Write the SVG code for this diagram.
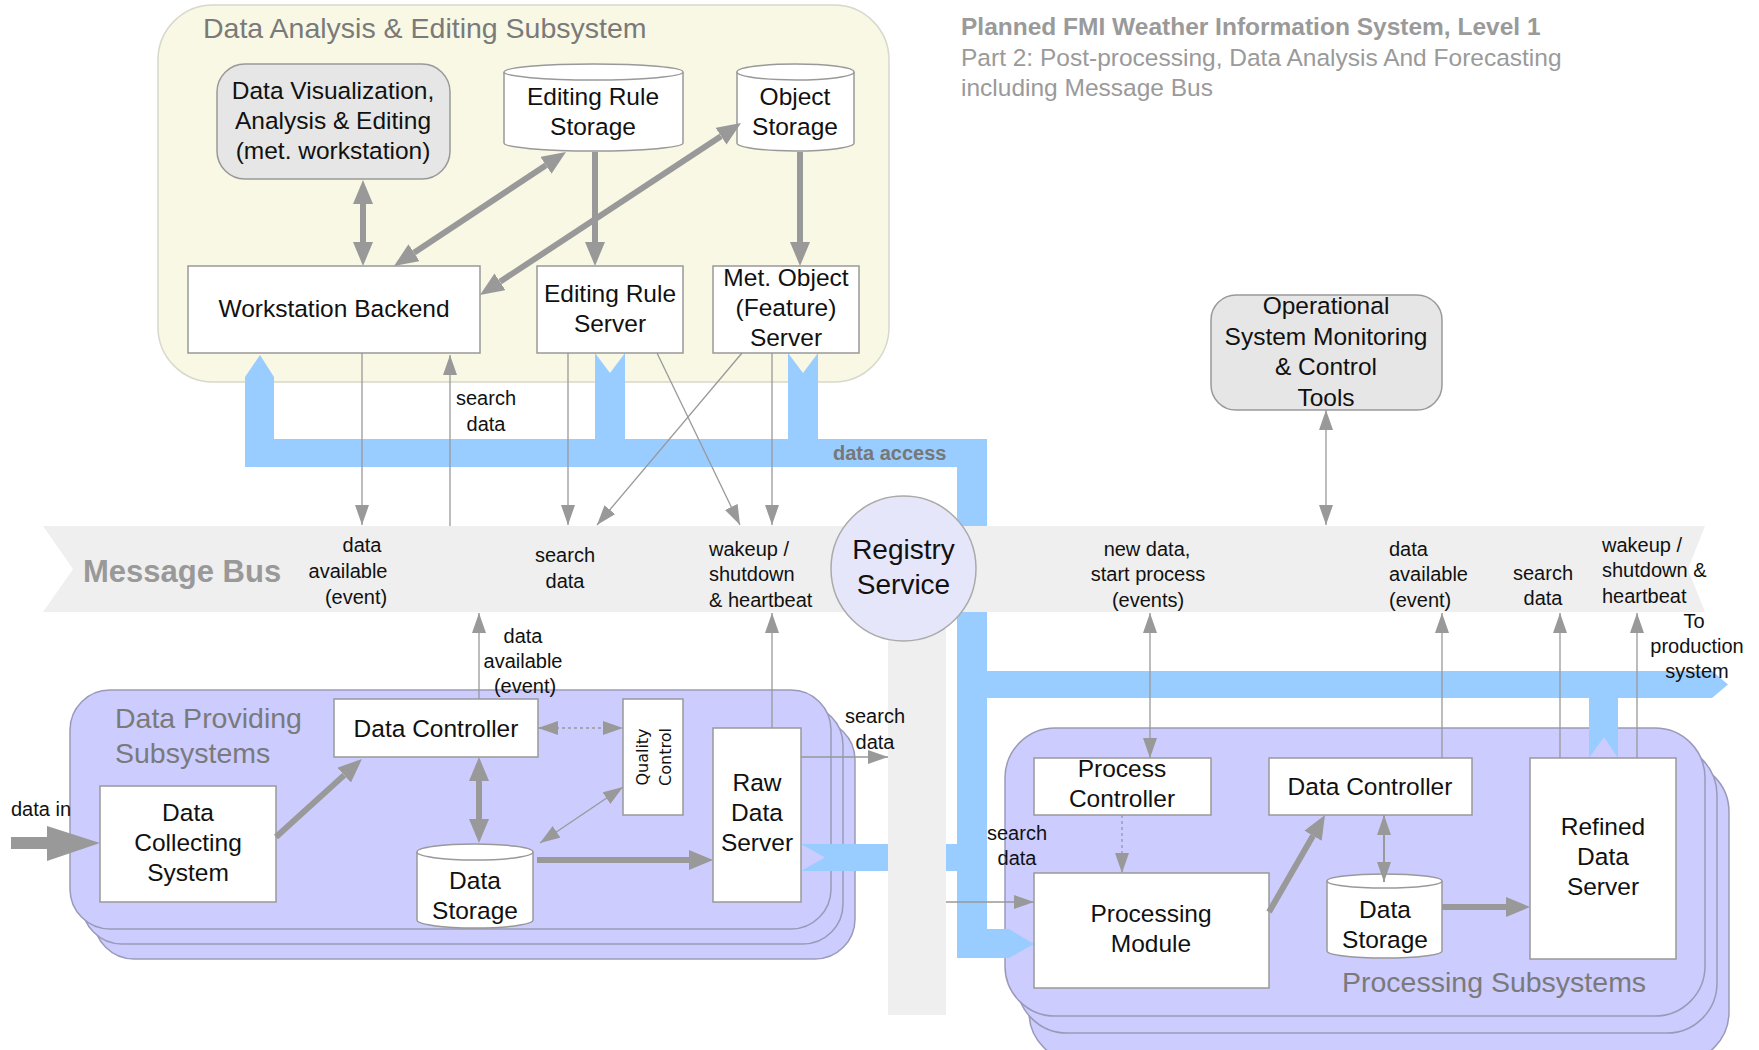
<svg xmlns="http://www.w3.org/2000/svg" width="1759" height="1050" viewBox="0 0 1759 1050">
<defs>
<style>
.node{fill:#fff;stroke:#999;stroke-width:1.5}
.gnode{fill:#e6e6e6;stroke:#999;stroke-width:1.5}
.t{font-family:"Liberation Sans",Arial,sans-serif;font-size:24.5px;fill:#111;text-anchor:middle}
.lbl{font-family:"Liberation Sans",Arial,sans-serif;font-size:20px;fill:#111;text-anchor:middle}
.lbs{font-family:"Liberation Sans",Arial,sans-serif;font-size:20px;fill:#111}
.ctitle{font-family:"Liberation Sans",Arial,sans-serif;font-size:28.5px;fill:#7a7a7a}
.ttl{font-family:"Liberation Sans",Arial,sans-serif;font-size:24.5px;fill:#9a9a9a}
.thin{stroke:#999;stroke-width:1.3;fill:none}
.thick{stroke:#999;stroke-width:6;fill:none}
.purple{fill:#ccccff;stroke:#9a9ab8;stroke-width:1.5}
</style>
<marker id="ah" viewBox="0 0 20 14" refX="20" refY="7" markerWidth="20" markerHeight="14" markerUnits="userSpaceOnUse" orient="auto-start-reverse"><path d="M0,0 L20,7 L0,14 Z" fill="#999"/></marker>
<marker id="ahT" viewBox="0 0 24 20" refX="0" refY="10" markerWidth="24" markerHeight="20" markerUnits="userSpaceOnUse" orient="auto-start-reverse"><path d="M0,0 L24,10 L0,20 Z" fill="#999"/></marker>
</defs>
<rect width="1759" height="1050" fill="#fff"/>

<!-- Containers -->
<g id="data-analysis-subsystem">
<rect x="158" y="5" width="731" height="377" rx="55" ry="55" fill="#f8f8e4" stroke="#d8d8cc" stroke-width="1.5"/>
<text class="ctitle" x="203" y="38">Data Analysis &amp; Editing Subsystem</text>
</g>
<g id="data-providing-subsystems">
<rect class="purple" x="94" y="720" width="761" height="239" rx="40"/>
<rect class="purple" x="82" y="705" width="761" height="239" rx="40"/>
<rect class="purple" x="70" y="690" width="761" height="239" rx="40"/>
<text class="ctitle" x="115" y="728">Data Providing</text>
<text class="ctitle" x="115" y="763">Subsystems</text>
</g>
<g id="processing-subsystems">
<rect class="purple" x="1029" y="762" width="700" height="300" rx="50"/>
<rect class="purple" x="1017" y="745" width="700" height="288" rx="50"/>
<rect class="purple" x="1005" y="728" width="700" height="288" rx="50"/>
<text class="ctitle" x="1342" y="992">Processing Subsystems</text>
</g>

<!-- Data access bus (blue) -->
<g id="data-access">
<polygon fill="#99ccff" points="260,355 274,377 274,439 595,439 595,353 610,373 625,353 625,439 788,439 788,353 803,373 818,353 818,439 987,439 987,671 1712,671 1728,684.5 1712,698 1618,698 1618,758 1604,737 1589,758 1589,698 987,698 987,929 1009,929 1034,944 1009,958 957,958 957,871 801,871 825,857.5 801,844 957,844 957,467 245,467 245,377"/>
<text x="833" y="460" font-family="Liberation Sans, Arial, sans-serif" font-size="20" font-weight="bold" fill="#777">data access</text>
</g>

<!-- Message bus -->
<g id="message-bus">
<polygon fill="#efefef" points="43,526 1705,526 1688,569 1705,612 43,612 73,569"/>
<rect x="888" y="612" width="58" height="403" fill="#efefef"/>
<text x="83" y="582" font-family="Liberation Sans, Arial, sans-serif" font-size="31" font-weight="bold" fill="#999">Message Bus</text>
</g>

<!-- Title -->
<g id="title">
<text class="ttl" x="961" y="35" font-weight="bold">Planned FMI Weather Information System, Level 1</text>
<text class="ttl" x="961" y="66">Part 2: Post-processing, Data Analysis And Forecasting</text>
<text class="ttl" x="961" y="96">including Message Bus</text>
</g>

<!-- Nodes -->
<g id="data-visualization">
<rect class="gnode" x="217" y="64" width="233" height="115" rx="28"/>
<text class="t" x="333" y="99">Data Visualization,</text>
<text class="t" x="333" y="129">Analysis &amp; Editing</text>
<text class="t" x="333" y="159">(met. workstation)</text>
</g>
<g id="editing-rule-storage">
<path class="node" d="M504,72 A89.5,8 0 0 1 683,72 V143 A89.5,8 0 0 1 504,143 Z"/>
<path class="node" fill="none" d="M504,72 A89.5,8 0 0 0 683,72"/>
<text class="t" x="593" y="105">Editing Rule</text>
<text class="t" x="593" y="135">Storage</text>
</g>
<g id="object-storage">
<path class="node" d="M737,72 A58.5,8 0 0 1 854,72 V143 A58.5,8 0 0 1 737,143 Z"/>
<path class="node" fill="none" d="M737,72 A58.5,8 0 0 0 854,72"/>
<text class="t" x="795" y="105">Object</text>
<text class="t" x="795" y="135">Storage</text>
</g>
<g id="workstation-backend">
<rect class="node" x="188" y="266" width="292" height="87"/>
<text class="t" x="334" y="317">Workstation Backend</text>
</g>
<g id="editing-rule-server">
<rect class="node" x="537" y="266" width="146" height="87"/>
<text class="t" x="610" y="302">Editing Rule</text>
<text class="t" x="610" y="332">Server</text>
</g>
<g id="met-object-server">
<rect class="node" x="713" y="266" width="146" height="87"/>
<text class="t" x="786" y="286">Met. Object</text>
<text class="t" x="786" y="316">(Feature)</text>
<text class="t" x="786" y="346">Server</text>
</g>
<g id="operational-monitoring">
<rect class="gnode" x="1211" y="295" width="231" height="115" rx="25"/>
<text class="t" x="1326" y="314">Operational</text>
<text class="t" x="1326" y="345">System Monitoring</text>
<text class="t" x="1326" y="375">&amp; Control</text>
<text class="t" x="1326" y="406">Tools</text>
</g>
<g id="registry-service">
<circle cx="903.5" cy="568.5" r="72.5" fill="#e6e6fa" stroke="#aaa" stroke-width="1.5"/>
<text class="t" x="903.5" y="559" font-size="28" style="font-size:28px">Registry</text>
<text class="t" x="903.5" y="594" style="font-size:28px">Service</text>
</g>
<g id="data-controller-left">
<rect class="node" x="334" y="699" width="204" height="58"/>
<text class="t" x="436" y="737">Data Controller</text>
</g>
<g id="quality-control">
<rect class="node" x="623" y="699" width="60" height="116"/>
<text transform="translate(648,757) rotate(-90)" text-anchor="middle" font-family="DejaVu Sans, sans-serif" font-size="16" fill="#111">Quality</text>
<text transform="translate(671,757) rotate(-90)" text-anchor="middle" font-family="DejaVu Sans, sans-serif" font-size="16" fill="#111">Control</text>
</g>
<g id="data-collecting-system">
<rect class="node" x="100" y="786" width="176" height="116"/>
<text class="t" x="188" y="821">Data</text>
<text class="t" x="188" y="851">Collecting</text>
<text class="t" x="188" y="881">System</text>
</g>
<g id="data-storage-left">
<path class="node" d="M417,852 A58,8 0 0 1 533,852 V920 A58,8 0 0 1 417,920 Z"/>
<path class="node" fill="none" d="M417,852 A58,8 0 0 0 533,852"/>
<text class="t" x="475" y="889">Data</text>
<text class="t" x="475" y="919">Storage</text>
</g>
<g id="raw-data-server">
<rect class="node" x="713" y="728" width="88" height="174"/>
<text class="t" x="757" y="791">Raw</text>
<text class="t" x="757" y="821">Data</text>
<text class="t" x="757" y="851">Server</text>
</g>
<g id="process-controller">
<rect class="node" x="1034" y="758" width="177" height="57"/>
<text class="t" x="1122" y="777">Process</text>
<text class="t" x="1122" y="807">Controller</text>
</g>
<g id="data-controller-right">
<rect class="node" x="1269" y="758" width="203" height="57"/>
<text class="t" x="1370" y="795">Data Controller</text>
</g>
<g id="processing-module">
<rect class="node" x="1034" y="873" width="235" height="115"/>
<text class="t" x="1151" y="922">Processing</text>
<text class="t" x="1151" y="952">Module</text>
</g>
<g id="data-storage-right">
<path class="node" d="M1327,881 A57.5,7 0 0 1 1442,881 V951 A57.5,7 0 0 1 1327,951 Z"/>
<path class="node" fill="none" d="M1327,881 A57.5,7 0 0 0 1442,881"/>
<text class="t" x="1385" y="918">Data</text>
<text class="t" x="1385" y="948">Storage</text>
</g>
<g id="refined-data-server">
<rect class="node" x="1530" y="758" width="146" height="201"/>
<text class="t" x="1603" y="835">Refined</text>
<text class="t" x="1603" y="865">Data</text>
<text class="t" x="1603" y="895">Server</text>
</g>

<!-- Connectors -->
<g id="connectors">
<!-- thick arrows -->
<line class="thick" x1="363" y1="204" x2="363" y2="242" marker-start="url(#ahT)" marker-end="url(#ahT)"/>
<line class="thick" x1="546" y1="165.3" x2="414" y2="252.7" marker-start="url(#ahT)" marker-end="url(#ahT)"/>
<line class="thick" x1="721" y1="136.2" x2="500" y2="281.8" marker-start="url(#ahT)" marker-end="url(#ahT)"/>
<line class="thick" x1="595" y1="152" x2="595" y2="242" marker-end="url(#ahT)"/>
<line class="thick" x1="800" y1="152" x2="800" y2="242" marker-end="url(#ahT)"/>
<line class="thick" x1="276" y1="837" x2="344.2" y2="775.1" marker-end="url(#ahT)"/>
<line class="thick" x1="479" y1="781" x2="479" y2="819" marker-start="url(#ahT)" marker-end="url(#ahT)"/>
<line class="thick" x1="537" y1="860" x2="689" y2="860" marker-end="url(#ahT)"/>
<line class="thick" x1="1269" y1="912" x2="1313" y2="835.8" marker-end="url(#ahT)"/>
<line class="thick" x1="1442" y1="907" x2="1506" y2="907" marker-end="url(#ahT)"/>
<polygon fill="#999" points="11,837 47,837 47,826 100,843 47,861 47,849 11,849"/>
<!-- thin arrows -->
<line class="thin" x1="362" y1="353" x2="362" y2="525" marker-end="url(#ah)"/>
<line class="thin" x1="450" y1="526" x2="450" y2="355" marker-end="url(#ah)"/>
<line class="thin" x1="568" y1="353" x2="568" y2="525" marker-end="url(#ah)"/>
<line class="thin" x1="657" y1="353" x2="740" y2="525" marker-end="url(#ah)"/>
<line class="thin" x1="742" y1="353" x2="597" y2="525" marker-end="url(#ah)"/>
<line class="thin" x1="772" y1="353" x2="772" y2="525" marker-end="url(#ah)"/>
<line class="thin" x1="479" y1="699" x2="479" y2="613" marker-end="url(#ah)"/>
<line class="thin" x1="772" y1="728" x2="772" y2="613" marker-end="url(#ah)"/>
<line class="thin" x1="1326" y1="410" x2="1326" y2="525" marker-start="url(#ah)" marker-end="url(#ah)"/>
<line class="thin" x1="1150" y1="613" x2="1150" y2="758" marker-start="url(#ah)" marker-end="url(#ah)"/>
<line class="thin" x1="1442" y1="758" x2="1442" y2="613" marker-end="url(#ah)"/>
<line class="thin" x1="1560" y1="758" x2="1560" y2="613" marker-end="url(#ah)"/>
<line class="thin" x1="1637" y1="758" x2="1637" y2="613" marker-end="url(#ah)"/>
<line class="thin" x1="801" y1="757" x2="888" y2="757" marker-end="url(#ah)"/>
<line class="thin" x1="946" y1="902" x2="1034" y2="902" marker-end="url(#ah)"/>
<line class="thin" x1="623" y1="787" x2="540" y2="843" marker-start="url(#ah)" marker-end="url(#ah)"/>
<line class="thin" stroke-dasharray="3,3" x1="538" y1="728" x2="623" y2="728" marker-start="url(#ah)" marker-end="url(#ah)"/>
<line class="thin" stroke-dasharray="3,3" x1="1122" y1="815" x2="1122" y2="873" marker-end="url(#ah)"/>
<line class="thin" style="stroke-width:2" x1="1384" y1="815" x2="1384" y2="882" marker-start="url(#ah)" marker-end="url(#ah)"/>
</g>

<!-- Connector labels -->
<g id="labels">
<text class="lbl" x="486" y="405">search</text>
<text class="lbl" x="486" y="431">data</text>
<text class="lbl" x="362" y="552">data</text>
<text class="lbl" x="348" y="578">available</text>
<text class="lbl" x="356" y="604">(event)</text>
<text class="lbl" x="565" y="562">search</text>
<text class="lbl" x="565" y="588">data</text>
<text class="lbs" x="709" y="556">wakeup /</text>
<text class="lbs" x="709" y="581">shutdown</text>
<text class="lbs" x="709" y="607">&amp; heartbeat</text>
<text class="lbl" x="523" y="643">data</text>
<text class="lbl" x="523" y="668">available</text>
<text class="lbl" x="525" y="693">(event)</text>
<text class="lbl" x="875" y="723">search</text>
<text class="lbl" x="875" y="749">data</text>
<text class="lbl" x="1017" y="840">search</text>
<text class="lbl" x="1017" y="865">data</text>
<text class="lbl" x="1147" y="556">new data,</text>
<text class="lbl" x="1148" y="581">start process</text>
<text class="lbl" x="1148" y="607">(events)</text>
<text class="lbs" x="1389" y="556">data</text>
<text class="lbs" x="1389" y="581">available</text>
<text class="lbs" x="1389" y="607">(event)</text>
<text class="lbl" x="1543" y="580">search</text>
<text class="lbl" x="1543" y="605">data</text>
<text class="lbs" x="1602" y="552">wakeup /</text>
<text class="lbs" x="1602" y="577">shutdown &amp;</text>
<text class="lbs" x="1602" y="603">heartbeat</text>
<text class="lbl" x="1694" y="628">To</text>
<text class="lbl" x="1697" y="653">production</text>
<text class="lbl" x="1697" y="678">system</text>
<text class="lbs" x="11" y="816">data in</text>
</g>
</svg>
